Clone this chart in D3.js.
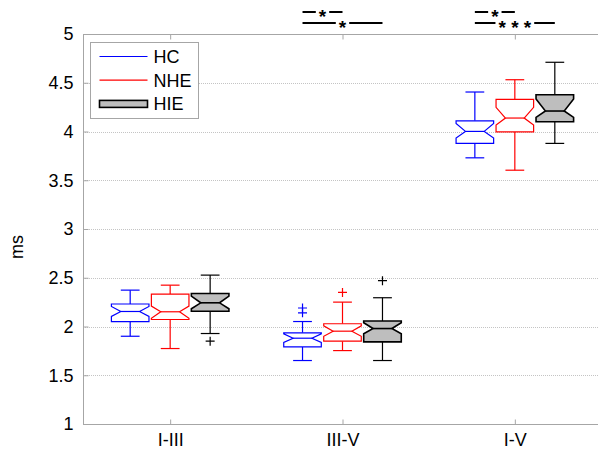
<!DOCTYPE html>
<html>
<head>
<meta charset="utf-8">
<script src="https://cdn.jsdelivr.net/npm/d3@7"></script>
<style>
  body { margin: 0; background: #fff; }
  text { font-family: "Liberation Sans", Arial, sans-serif; }
</style>
</head>
<body>
<div id="chart"></div>
<script>
// categories and groups
var categories = ["I-III", "III-V", "I-V"]
var groups = ["HC", "NHE", "HIE"]
var yTicks = [1, 1.5, 2, 2.5, 3, 3.5, 4, 4.5, 5]

// per category: [lower whisker, q1, notch low, median, notch high, q3, upper whisker]
var hcStats = [
  [1.90, 2.049, 2.103, 2.154, 2.206, 2.231, 2.373],
  [1.651, 1.791, 1.836, 1.880, 1.925, 1.935, 2.051],
  [3.730, 3.878, 3.932, 4.001, 4.083, 4.110, 4.405]
]
var nheStats = [
  [1.774, 2.072, 2.085, 2.151, 2.209, 2.332, 2.424],
  [1.753, 1.849, 1.900, 1.952, 2.007, 2.028, 2.250],
  [3.603, 3.997, 4.066, 4.138, 4.248, 4.330, 4.531]
]
var hieStats = [
  [1.928, 2.157, 2.182, 2.243, 2.311, 2.339, 2.527],
  [1.651, 1.842, 1.925, 1.979, 2.038, 2.056, 2.295],
  [3.878, 4.100, 4.145, 4.210, 4.333, 4.377, 4.710]
]
// outliers per category
var hcOutliers = [[], [2.19, 2.14], []]
var nheOutliers = [[], [2.35], []]
var hieOutliers = [[1.85], [2.47], []]

// significance bars: category index, from group, to group, row, label
var sigCategory = [1, 1, 2, 2]
var sigFrom = [0, 0, 0, 0]
var sigTo = [1, 2, 1, 2]
var sigRow = [0, 1, 0, 1]
var sigLabel = ["*", "*", "*", "* * *"]

var colors = ["#0000ff", "#ff0000", "#000000"]
var stats = [hcStats, nheStats, hieStats]
var outliers = [hcOutliers, nheOutliers, hieOutliers]

var width = 598, height = 450
var margin = {top: 34, left: 83, bottom: 26}

var svg = d3.select("#chart").append("svg")
  .attr("width", width)
  .attr("height", height)

var x = d3.scaleLinear()
  .domain([0.5, 3.5])
  .range([margin.left + 1, 601])
var y = d3.scaleLinear()
  .domain([1, 5])
  .range([height - margin.bottom, margin.top])

var unit = x(2) - x(1)
var offset = 0.232, boxW = 0.218

// gridlines
svg.append("g").selectAll("line")
  .data(yTicks.slice(1, -1))
  .enter().append("line")
  .attr("x1", margin.left).attr("x2", width)
  .attr("y1", function(d) { return Math.round(y(d)) + 0.5 })
  .attr("y2", function(d) { return Math.round(y(d)) + 0.5 })
  .attr("stroke", "#c4c4c4")
  .attr("stroke-dasharray", "1,1")

// axes
var axisColor = "#a6a6a6"
var yAxis = svg.append("g")
  .attr("transform", "translate(" + (margin.left + 0.5) + ",0)")
  .call(d3.axisLeft(y).tickValues(yTicks).tickSize(-5).tickPadding(10).tickFormat(d3.format("")))
var xAxis = svg.append("g")
  .attr("transform", "translate(0," + (Math.round(y(1)) + 0.5) + ")")
  .call(d3.axisBottom(x).tickValues([1, 2, 3]).tickSize(-5).tickPadding(9)
    .tickFormat(function(d) { return categories[d - 1] }))
var topAxis = svg.append("g")
  .attr("transform", "translate(0," + (Math.round(y(5)) + 0.5) + ")")
  .call(d3.axisTop(x).tickValues([1, 2, 3]).tickSize(-5).tickFormat(""))
;[yAxis, xAxis, topAxis].forEach(function(a) {
  a.selectAll("path, line").attr("stroke", axisColor)
  a.selectAll("text").attr("fill", "#000").style("font-size", "18px")
    .style("font-family", "'Liberation Sans', Arial, sans-serif")
})
yAxis.select(".domain").attr("d", "M0," + y(1) + "V" + y(5))
xAxis.select(".domain").attr("d", "M" + margin.left + ",0H" + width)
topAxis.select(".domain").attr("d", "M" + margin.left + ",0H" + width)

// y label
svg.append("text")
  .attr("transform", "translate(23,247) rotate(-90)")
  .attr("text-anchor", "middle")
  .style("font-size", "18px")
  .text("ms")

// boxes
groups.forEach(function(g, gi) {
  var col = colors[gi]
  var layer = svg.append("g")
  categories.forEach(function(c, ci) {
    var s = stats[gi][ci]
    var cx = x(ci + 1 + (gi - 1) * offset)
    var hw = boxW * unit / 2
    var nw = hw / 2
    var lw = s[0], q1 = s[1], nLo = s[2], med = s[3], nHi = s[4], q3 = s[5], uw = s[6]
    // whiskers
    layer.append("line")
      .attr("x1", cx).attr("x2", cx).attr("y1", y(q3)).attr("y2", y(uw))
      .attr("stroke", col).attr("stroke-width", 1.2)
    layer.append("line")
      .attr("x1", cx).attr("x2", cx).attr("y1", y(q1)).attr("y2", y(lw))
      .attr("stroke", col).attr("stroke-width", 1.2)
    layer.selectAll(null).data([lw, uw]).enter().append("line")
      .attr("x1", cx - nw).attr("x2", cx + nw)
      .attr("y1", function(d) { return y(d) }).attr("y2", function(d) { return y(d) })
      .attr("stroke", col).attr("stroke-width", 1.2)
    // notched box
    var pts = [
      [cx - hw, y(q3)], [cx + hw, y(q3)], [cx + hw, y(nHi)], [cx + nw, y(med)],
      [cx + hw, y(nLo)], [cx + hw, y(q1)], [cx - hw, y(q1)], [cx - hw, y(nLo)],
      [cx - nw, y(med)], [cx - hw, y(nHi)]
    ]
    layer.append("path")
      .attr("d", d3.line()(pts) + "Z")
      .attr("fill", gi == 2 ? "#bebebe" : "#fff")
      .attr("stroke", col)
      .attr("stroke-width", gi == 2 ? 1.6 : 1.2)
      .attr("stroke-linejoin", "miter")
    layer.append("line")
      .attr("x1", cx - nw).attr("x2", cx + nw).attr("y1", y(med)).attr("y2", y(med))
      .attr("stroke", col).attr("stroke-width", gi == 2 ? 1.6 : 1.2)
    // outliers
    outliers[gi][ci].forEach(function(o) {
      layer.append("path")
        .attr("d", "M" + (cx - 4.5) + "," + y(o) + "h9M" + cx + "," + (y(o) - 4.5) + "v9")
        .attr("stroke", col).attr("stroke-width", 1.2)
    })
  })
})

// significance bars
var rowY = [12, 23]
sigLabel.forEach(function(lab, i) {
  var ci = sigCategory[i]
  var x1 = x(ci + 1 + (sigFrom[i] - 1) * offset)
  var x2 = x(ci + 1 + (sigTo[i] - 1) * offset)
  var ly = rowY[sigRow[i]]
  var mid = (x1 + x2) / 2
  var t = svg.append("text")
    .attr("x", mid).attr("y", ly + 11)
    .attr("text-anchor", "middle")
    .style("font-size", "19px")
    .style("font-weight", "bold")
    .text(lab)
  var tw = t.node().getComputedTextLength()
  var gap = tw / 2 + 3
  svg.append("line").attr("x1", x1).attr("x2", mid - gap).attr("y1", ly).attr("y2", ly)
    .attr("stroke", "#000").attr("stroke-width", 2)
  svg.append("line").attr("x1", mid + gap).attr("x2", x2).attr("y1", ly).attr("y2", ly)
    .attr("stroke", "#000").attr("stroke-width", 2)
})

// legend
var legend = svg.append("g").attr("transform", "translate(90.5,42.5)")
legend.append("rect")
  .attr("width", 108).attr("height", 76)
  .attr("fill", "#fff").attr("stroke", "#a6a6a6")
groups.forEach(function(g, gi) {
  var ly = 14 + gi * 23.7
  if (gi == 2) {
    legend.append("rect")
      .attr("x", 9).attr("y", ly - 3.5).attr("width", 48).attr("height", 7)
      .attr("fill", "#bebebe").attr("stroke", "#000").attr("stroke-width", 1.6)
  } else {
    legend.append("line")
      .attr("x1", 9).attr("x2", 57).attr("y1", ly).attr("y2", ly)
      .attr("stroke", colors[gi]).attr("stroke-width", 1.2)
  }
  legend.append("text")
    .attr("x", 63).attr("y", ly + 6.5)
    .style("font-size", "18px")
    .text(g)
})
</script>
</body>
</html>
